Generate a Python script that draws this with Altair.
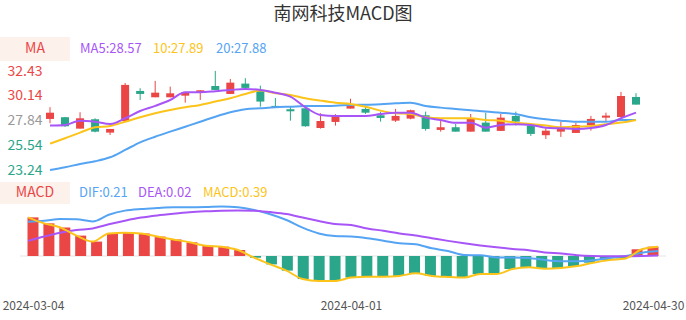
import json
import altair as alt
import pandas as pd

# ---------------- data ----------------
dates = [
    "2024-03-04", "2024-03-05", "2024-03-06", "2024-03-07", "2024-03-08",
    "2024-03-11", "2024-03-12", "2024-03-13", "2024-03-14", "2024-03-15",
    "2024-03-18", "2024-03-19", "2024-03-20", "2024-03-21", "2024-03-22",
    "2024-03-25", "2024-03-26", "2024-03-27", "2024-03-28", "2024-03-29",
    "2024-04-01", "2024-04-02", "2024-04-03", "2024-04-08", "2024-04-09",
    "2024-04-10", "2024-04-11", "2024-04-12", "2024-04-15", "2024-04-16",
    "2024-04-17", "2024-04-18", "2024-04-19", "2024-04-22", "2024-04-23",
    "2024-04-24", "2024-04-25", "2024-04-26", "2024-04-29", "2024-04-30",
]
opens = [27.98, 28.14, 27.08, 27.95, 26.71, 27.79, 30.58, 29.99, 29.99, 30.14,
         30.42, 31.04, 30.30, 31.26, 30.67, 29.19, 28.88, 28.97, 27.14, 27.70,
         28.94, 28.91, 28.32, 27.82, 28.01, 28.32, 26.96, 27.21, 26.80, 27.64,
         26.87, 28.26, 27.36, 26.47, 26.80, 26.68, 27.39, 28.10, 28.16, 30.02]
highs = [29.07, 28.17, 28.60, 28.04, 27.05, 31.32, 30.83, 31.51, 30.98, 30.46,
         30.64, 32.44, 31.69, 31.76, 31.07, 29.93, 29.07, 28.97, 28.51, 28.42,
         29.86, 29.12, 28.66, 28.91, 28.84, 28.66, 27.79, 27.51, 28.44, 28.56,
         28.44, 28.66, 27.36, 27.12, 27.73, 27.64, 28.26, 28.56, 30.49, 30.37]
lows = [27.58, 27.24, 27.08, 26.74, 26.49, 27.79, 29.74, 29.99, 29.99, 29.49,
        29.74, 30.67, 30.30, 30.86, 29.12, 29.07, 27.82, 27.26, 27.08, 27.36,
        28.94, 28.44, 27.73, 27.70, 27.95, 26.89, 26.80, 26.80, 26.80, 26.80,
        26.87, 27.36, 26.40, 26.12, 26.31, 26.68, 26.89, 27.79, 28.16, 29.31]
closes = [28.56, 27.30, 28.04, 26.80, 27.05, 31.14, 30.30, 30.42, 30.36, 30.46,
          30.64, 30.67, 31.35, 30.86, 29.59, 29.07, 28.69, 27.30, 27.79, 28.26,
          29.21, 28.56, 28.07, 28.26, 28.79, 27.05, 27.21, 26.80, 28.01, 26.80,
          28.10, 27.73, 26.59, 26.89, 27.05, 27.42, 27.98, 28.29, 30.11, 29.31]
ma5 = [27.36, 27.42, 27.82, 27.72, 27.51, 28.04, 28.72, 29.19, 29.74, 30.46,
       30.46, 30.55, 30.67, 30.76, 30.67, 30.42, 30.05, 29.06, 28.35, 28.25,
       28.25, 28.25, 28.44, 28.56, 28.56, 28.10, 27.88, 27.63, 27.63, 27.17,
       27.42, 27.49, 27.42, 27.17, 27.11, 27.05, 27.14, 27.42, 28.04, 28.57]
ma10 = [25.69, 26.19, 26.71, 27.20, 27.33, 27.72, 28.13, 28.50, 28.81, 29.06,
        29.28, 29.59, 29.90, 30.30, 30.61, 30.37, 30.21, 29.90, 29.68, 29.49,
        29.37, 29.12, 28.75, 28.51, 28.44, 28.13, 28.04, 28.04, 28.04, 27.88,
        27.82, 27.63, 27.51, 27.36, 27.21, 27.26, 27.33, 27.49, 27.64, 27.89]
ma20 = [23.24, 23.49, 23.80, 24.05, 24.42, 25.10, 25.81, 26.33, 26.80, 27.26,
        27.72, 28.19, 28.60, 28.88, 28.97, 29.06, 29.12, 29.18, 29.18, 29.21,
        29.27, 29.30, 29.34, 29.43, 29.49, 29.18, 29.03, 28.91, 28.79, 28.66,
        28.56, 28.44, 28.14, 27.95, 27.82, 27.72, 27.72, 27.72, 27.88, 27.88]
dif = [1.43, 1.47, 1.54, 1.53, 1.44, 1.72, 1.89, 1.96, 2.00, 2.03,
       2.03, 2.04, 2.06, 2.03, 1.92, 1.74, 1.50, 1.18, 0.94, 0.83,
       0.81, 0.74, 0.64, 0.53, 0.49, 0.32, 0.21, 0.04, 0.03, -0.06,
       -0.06, -0.08, -0.17, -0.22, -0.22, -0.18, -0.08, 0.00, 0.14, 0.21]
dea = [0.63, 0.81, 0.97, 1.08, 1.15, 1.32, 1.47, 1.60, 1.69, 1.76,
       1.82, 1.86, 1.89, 1.90, 1.89, 1.83, 1.75, 1.60, 1.46, 1.33,
       1.29, 1.15, 1.05, 0.94, 0.85, 0.74, 0.63, 0.53, 0.44, 0.36,
       0.29, 0.24, 0.15, 0.10, 0.03, 0.00, -0.01, -0.01, 0.00, 0.02]
macd_hist = [1.61, 1.36, 1.19, 0.85, 0.60, 0.94, 0.97, 0.94, 0.81, 0.69,
             0.57, 0.43, 0.39, 0.25, -0.07, -0.35, -0.61, -0.96, -1.04, -1.04,
             -0.90, -0.86, -0.86, -0.83, -0.72, -0.83, -0.875, -0.90, -0.75, -0.75,
             -0.54, -0.47, -0.53, -0.50, -0.42, -0.28, -0.17, -0.10, 0.28, 0.39]
price_ticks = [32.43, 30.14, 27.84, 25.54, 23.24]
date_ticks = [0, 20, 39]
title_text = "南网科技MACD图"

# ---------------- styles ----------------
RED = "#eb4646"
GREEN = "#2aa68a"
PURPLE = "#a855f7"
YELLOW = "#fcc41a"
BLUE = "#55a4f3"
FONT = "Noto Sans CJK SC"

df = pd.DataFrame({
    "i": list(range(len(dates))), "date": dates,
    "open": opens, "high": highs, "low": lows, "close": closes,
    "ma5": ma5, "ma10": ma10, "ma20": ma20,
    "dif": dif, "dea": dea, "hist": macd_hist,
})

price_x = alt.Scale(domain=[0, 39], range=[50, 636], nice=False, zero=False)
price_y = alt.Scale(domain=[23.24, 32.43], range=[170, 71], nice=False, zero=False)
macd_x = alt.Scale(domain=[0, 39], range=[28, 658], nice=False, zero=False)
macd_y = alt.Scale(domain=[-1.5, 2.5], range=[292, 196], nice=False, zero=False)

candle_color = alt.condition("datum.close >= datum.open", alt.value(RED), alt.value(GREEN))

y_axis = alt.Axis(
    values=price_ticks, format=".2f", domain=False, ticks=False, tickSize=0,
    grid=False, labelPadding=1, offset=-43, labelFontSize=14, labelFont=FONT,
    labelColor={"expr": "datum.value > 28.5 ? '%s' : (datum.value > 27 ? '#999999' : '%s')" % (RED, GREEN)},
    title=None,
)
label_map = json.dumps(dates)
x_axis = alt.Axis(
    values=date_ticks, labelExpr="%s[datum.value]" % label_map,
    domain=False, ticks=False, tickSize=0, grid=False, labelPadding=0, offset=-20,
    labelFontSize=12, labelFont=FONT, labelColor="#555555", title=None,
    labelOverlap=False, labelFlush=False,
)

base = alt.Chart(df)
px = alt.X("i:Q", scale=price_x, axis=None)
mx = alt.X("i:Q", scale=macd_x, axis=None)

wick = base.mark_rule(strokeWidth=1).encode(
    x=px, y=alt.Y("low:Q", scale=price_y, axis=y_axis), y2="high:Q", color=candle_color)
body = base.mark_rule(strokeWidth=8, strokeCap="butt").encode(
    x=px, y=alt.Y("open:Q", scale=price_y, axis=None), y2="close:Q", color=candle_color)


def ma_line(field, color, xenc, yscale):
    return base.mark_line(color=color, strokeWidth=2, interpolate="monotone").encode(
        x=xenc, y=alt.Y(f"{field}:Q", scale=yscale, axis=None))


zero_line = alt.Chart(pd.DataFrame({"a": [0]})).mark_rule(color="#e3e3e3", strokeWidth=1).encode(
    x=alt.X(datum=-0.5, type="quantitative", scale=macd_x, axis=None),
    x2=alt.X2(datum=39.5),
    y=alt.Y(datum=0, type="quantitative", scale=macd_y, axis=None),
)
hist_bars = base.mark_bar(size=11, fillOpacity=1, strokeWidth=0).encode(
    x=alt.X("i:Q", scale=macd_x, axis=x_axis),
    y=alt.Y("hist:Q", scale=macd_y, axis=None, stack=None),
    y2=alt.Y2(datum=0),
    fill=alt.condition("datum.hist >= 0", alt.value(RED), alt.value(GREEN)),
)

one = pd.DataFrame({"a": [0]})


def text(t, x, y, color, size=13, align="left"):
    return alt.Chart(one).mark_text(
        text=t, align=align, baseline="middle", font=FONT, fontSize=size, color=color
    ).encode(x=alt.value(x), y=alt.value(y))


def box(y0, y1):
    return alt.Chart(one).mark_rect(color="#fdf1ec").encode(
        x=alt.value(0), x2=alt.value(70), y=alt.value(y0), y2=alt.value(y1))


layers = [
    text(title_text, 343, 15, "#333333", size=18, align="center"),
    box(37, 61), text("MA", 35, 49, RED, size=14, align="center"),
    text("MA5:%.2f" % ma5[-1], 80, 49, PURPLE),
    text("10:%.2f" % ma10[-1], 153, 49, YELLOW),
    text("20:%.2f" % ma20[-1], 216, 49, BLUE),
    box(182, 204), text("MACD", 35, 193, RED, size=14, align="center"),
    text("DIF:%.2f" % dif[-1], 79, 193, BLUE),
    text("DEA:%.2f" % dea[-1], 138, 193, PURPLE),
    text("MACD:%.2f" % macd_hist[-1], 203, 193, YELLOW),
    wick, body,
    ma_line("ma20", BLUE, px, price_y),
    ma_line("ma10", YELLOW, px, price_y),
    ma_line("ma5", PURPLE, px, price_y),
    zero_line, hist_bars,
    ma_line("dif", BLUE, mx, macd_y),
    ma_line("dea", PURPLE, mx, macd_y),
    ma_line("hist", YELLOW, mx, macd_y),
]

chart = alt.layer(*layers).resolve_scale(x="independent", y="independent").properties(
    width=686, height=320, autosize=alt.AutoSizeParams(type="none"), padding=0,
).configure_view(stroke=None)

chart.save("out.html", embed_options={"renderer": "svg", "actions": False})
